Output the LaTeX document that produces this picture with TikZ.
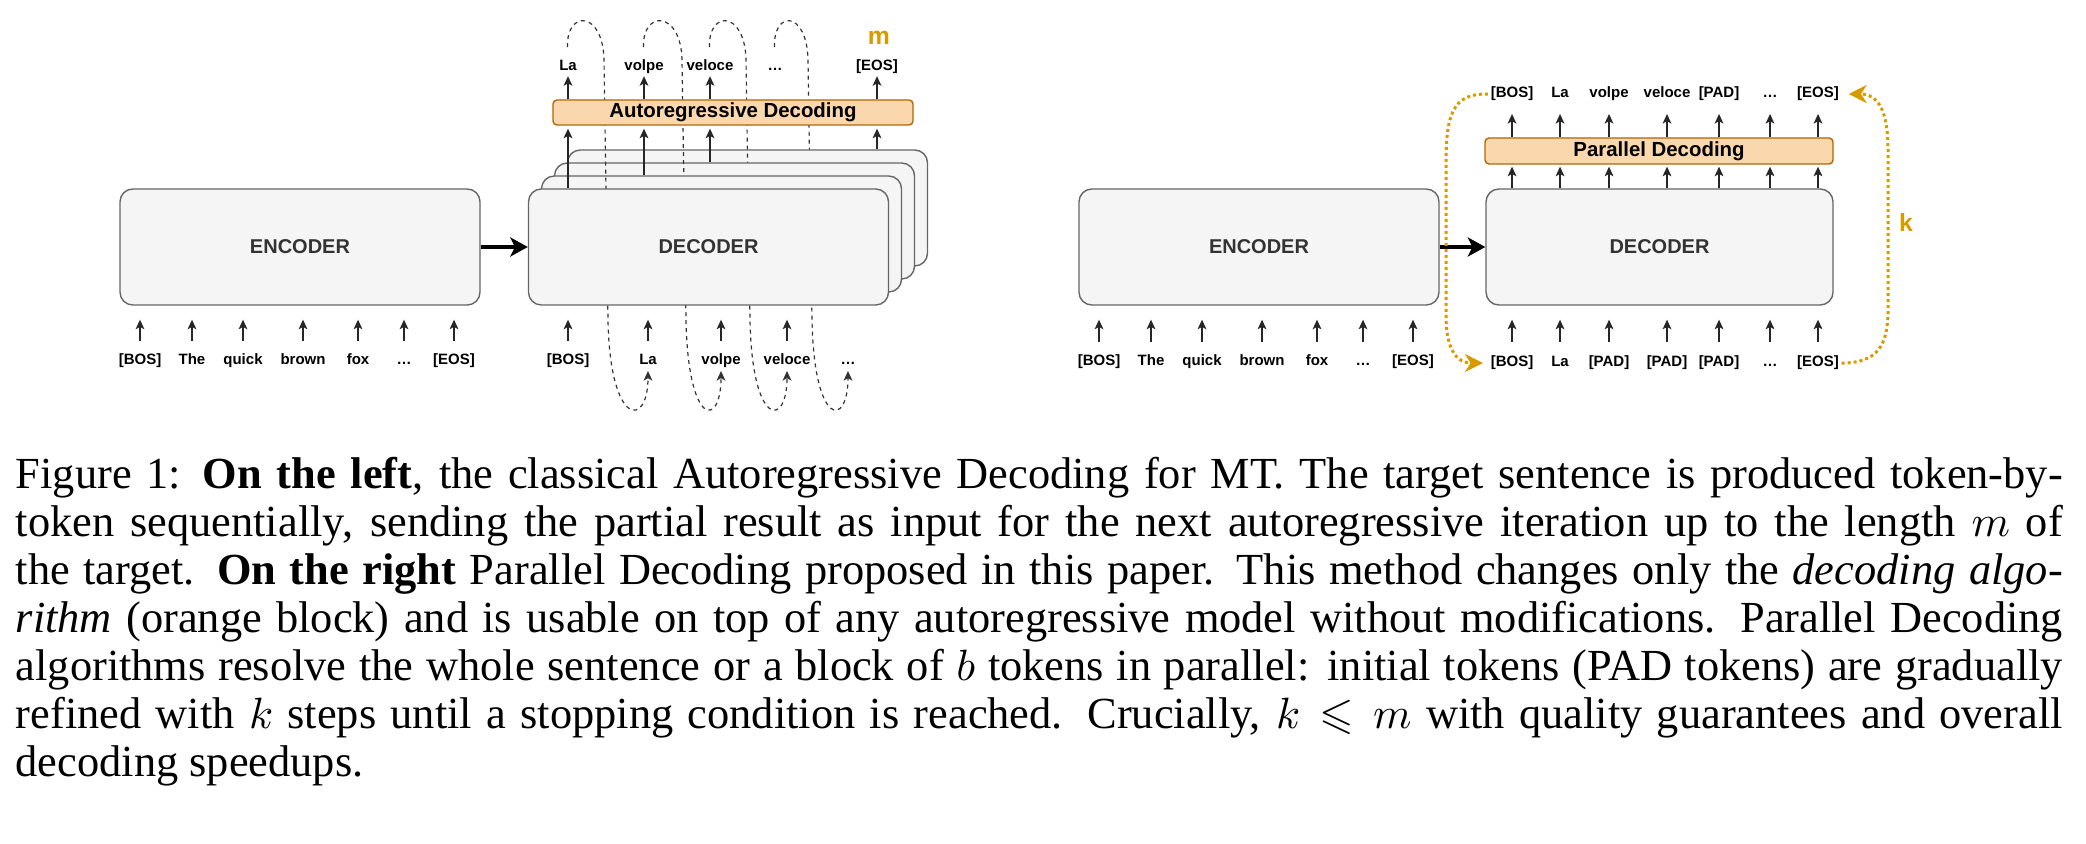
\documentclass[tikz,border=0pt]{standalone}
\usepackage{amsmath,amssymb}
\usepackage{fontspec}
\setmainfont{Liberation Serif}
\setsansfont{Liberation Sans}
\usepackage{xcolor}
\usepackage{tikz}
\usetikzlibrary{arrows.meta, positioning, calc}
\definecolor{blockfill}{HTML}{F5F5F5}
\definecolor{blockline}{HTML}{666666}
\definecolor{blocktext}{HTML}{333333}
\definecolor{algofill}{HTML}{FAD7AC}
\definecolor{algoline}{HTML}{B46504}
\definecolor{loopgold}{HTML}{D79B00}
\setlength{\parindent}{0pt}

\begin{document}
\begin{tikzpicture}[
  x=0.25pt, y=-0.25pt,
  blockbox/.style = {rectangle, rounded corners=3.2pt, fill=blockfill, draw=blockline,
                 line width=0.35pt, minimum width=90pt, minimum height=29pt,
                 font=\fontsize{5}{6}\selectfont\sffamily\bfseries, text=blocktext},
  algobox/.style  = {rectangle, rounded corners=1pt, fill=algofill, draw=algoline,
                 line width=0.35pt, minimum width=90pt, minimum height=6.25pt, inner sep=0pt,
                 font=\fontsize{5.1}{6}\selectfont\sffamily\bfseries},
  tok/.style      = {inner xsep=0.5pt, inner ysep=0.5pt, text height=2.75pt, text depth=0.8pt,
                 anchor=base, font=\fontsize{3.75}{4.5}\selectfont\sffamily\bfseries},
  steplab/.style  = {font=\fontsize{6.2}{7}\selectfont\sffamily\bfseries, text=loopgold},
  tokarr/.style   = {-{Stealth[length=2.4pt, width=2.2pt, inset=0.6pt]}, line width=0.3pt, black!85},
  encarr/.style   = {-{Stealth[length=4.4pt, width=4.8pt, inset=1.2pt]}, line width=0.8pt},
  arloop/.style   = {-{Stealth[length=2.4pt, width=2.2pt, inset=0.6pt]}, line width=0.3pt,
                 dash pattern=on 1pt off 1pt, black!80, shorten <=2.75pt},
  kloop/.style    = {-{Stealth[length=4.5pt, width=4.5pt, inset=1.4pt]}, line width=0.75pt,
                 dash pattern=on 0.75pt off 0.75pt, loopgold},
]
\useasboundingbox (0,0) rectangle (2086,844);

%% --- Encoder (left) ---
\node[blockbox] (enc) at (300,247) {ENCODER};
\foreach \x/\w [count=\i] in {140/{[BOS]},192/The,243/quick,303/brown,358/fox,404/\ldots,454/{[EOS]}} {
  \node[tok] (ein\i) at (\x,365) {\w};
  \draw[tokarr, shorten <=2.5pt, shorten >=3.5pt] (ein\i.north) -- (ein\i |- enc.south);
}

%% --- Autoregressive decoder tokens ---
\foreach \x/\w [count=\i] in {568/{[BOS]},648/La,721/volpe,787/veloce,848/\ldots}
  \node[tok] (din\i) at (\x,365) {\w};
\foreach \x/\w [count=\i] in {568/La,644/volpe,710/veloce,775/\ldots,877/{[EOS]}}
  \node[tok, inner ysep=0.3pt] (dout\i) at (\x,71) {\w};

%% --- Decoder stack, one feedback loop behind each copy ---
\draw[arloop] (dout4.north) .. controls (773,10) and (807,10) .. (808,60) -- (812,320)
              .. controls (814,428) and (848,428) .. (din5.south);
\node[blockbox] (dec3) at (747.5,208) {};
\draw[arloop] (dout3.north) .. controls (708,10) and (745,10) .. (746,60) -- (750,320)
              .. controls (752,428) and (787,428) .. (din4.south);
\node[blockbox] (dec2) at (734.5,221) {};
\draw[arloop] (dout2.north) .. controls (642,10) and (681,10) .. (682,60) -- (686,320)
              .. controls (688,428) and (721,428) .. (din3.south);
\node[blockbox] (dec1) at (721.5,234) {};
\draw[arloop] (dout1.north) .. controls (566,10) and (603,10) .. (604,60) -- (608,320)
              .. controls (610,428) and (648,428) .. (din2.south);
\node[blockbox] (dec0) at (708.5,247) {DECODER};

%% --- Autoregressive block ---
\node[algobox] (ard) at (733,112.5) {Autoregressive Decoding};
\node[steplab] (mlab) at (879,38) {m};

%% --- Arrows (left) ---
\draw[encarr] (enc.east) -- (dec0.west);
\foreach \i in {1,...,4}
  \draw[tokarr, shorten <=2.5pt, shorten >=3.5pt] (din\i.north) -- (din\i |- dec0.south);
\foreach \o/\d in {1/0,2/1,3/2,5/3}
  \draw[tokarr, shorten >=0.75pt] (dout\o |- dec\d.north) -- (dout\o |- ard.south);
\foreach \o in {1,2,3,5}
  \draw[tokarr] (dout\o |- ard.north) -- (dout\o.south);

%% --- Encoder (right) ---
\node[blockbox] (enc2) at (1259,247) {ENCODER};
\foreach \x/\w [count=\i] in {1099/{[BOS]},1151/The,1202/quick,1262/brown,1317/fox,1363/\ldots,1413/{[EOS]}} {
  \node[tok] (fin\i) at (\x,366) {\w};
  \draw[tokarr, shorten <=2.5pt, shorten >=3.5pt] (fin\i.north) -- (fin\i |- enc2.south);
}

%% --- Parallel decoder ---
\node[blockbox, minimum width=86.75pt] (pdec) at (1659.5,247) {DECODER};
\node[algobox, minimum width=87pt, minimum height=6.5pt] (pd) at (1659,151) {Parallel Decoding};
\foreach \x/\w [count=\i] in {1512/{[BOS]},1560/La,1609/{[PAD]},1667/{[PAD]},1719/{[PAD]},1770/\ldots,1818/{[EOS]}}
  \node[tok] (pin\i) at (\x,367) {\w};
\foreach \x/\w [count=\i] in {1512/{[BOS]},1560/La,1609/volpe,1667/veloce,1719/{[PAD]},1770/\ldots,1818/{[EOS]}}
  \node[tok] (pout\i) at (\x,98) {\w};

%% --- Arrows (right) ---
\draw[encarr] (enc2.east) -- (pdec.west);
\foreach \i in {1,...,7} {
  \draw[tokarr, shorten <=2.75pt, shorten >=3.5pt] (pin\i.north) -- (pin\i |- pdec.south);
  \draw[tokarr, shorten >=0.5pt] (pin\i |- pdec.north) -- (pin\i |- pd.south);
  \draw[tokarr, shorten >=2.5pt] (pin\i |- pd.north) -- (pout\i.south);
}

%% --- k refinement loops ---
\draw[kloop, shorten >=1.25pt] (pout1.west) .. controls (1452,93) and (1446,115) .. (1446,165)
      -- (1446,315) .. controls (1446,352) and (1458,363) .. (pin1.west);
\draw[kloop, shorten >=1.75pt] (pin7.east) .. controls (1878,363) and (1888,345) .. (1888,310)
      -- (1888,150) .. controls (1888,110) and (1878,94) .. (pout7.east);
\node[steplab] (klab) at (1906,223) {k};

%% --- Caption ---
\node[anchor=north west, inner sep=0pt, text width=511.75pt, align=justify,
      font=\fontsize{11.1}{12}\selectfont] (cap) at (15,456) {%
Figure 1: \textbf{On the left}, the classical Autoregressive Decoding for MT. The target sentence is produced token-by-\linebreak
token sequentially, sending the partial result as input for the next autoregressive iteration up to the length $m$ of\linebreak
the target. \textbf{On the right} Parallel Decoding proposed in this paper. This method changes only the \textit{decoding algo-}\linebreak
\textit{rithm} (orange block) and is usable on top of any autoregressive model without modifications. Parallel Decoding\linebreak
algorithms resolve the whole sentence or a block of $b$ tokens in parallel: initial tokens (PAD tokens) are gradually\linebreak
refined with $k$ steps until a stopping condition is reached. Crucially, $k \leqslant m$ with quality guarantees and overall\linebreak
decoding speedups.};

\end{tikzpicture}
\end{document}
